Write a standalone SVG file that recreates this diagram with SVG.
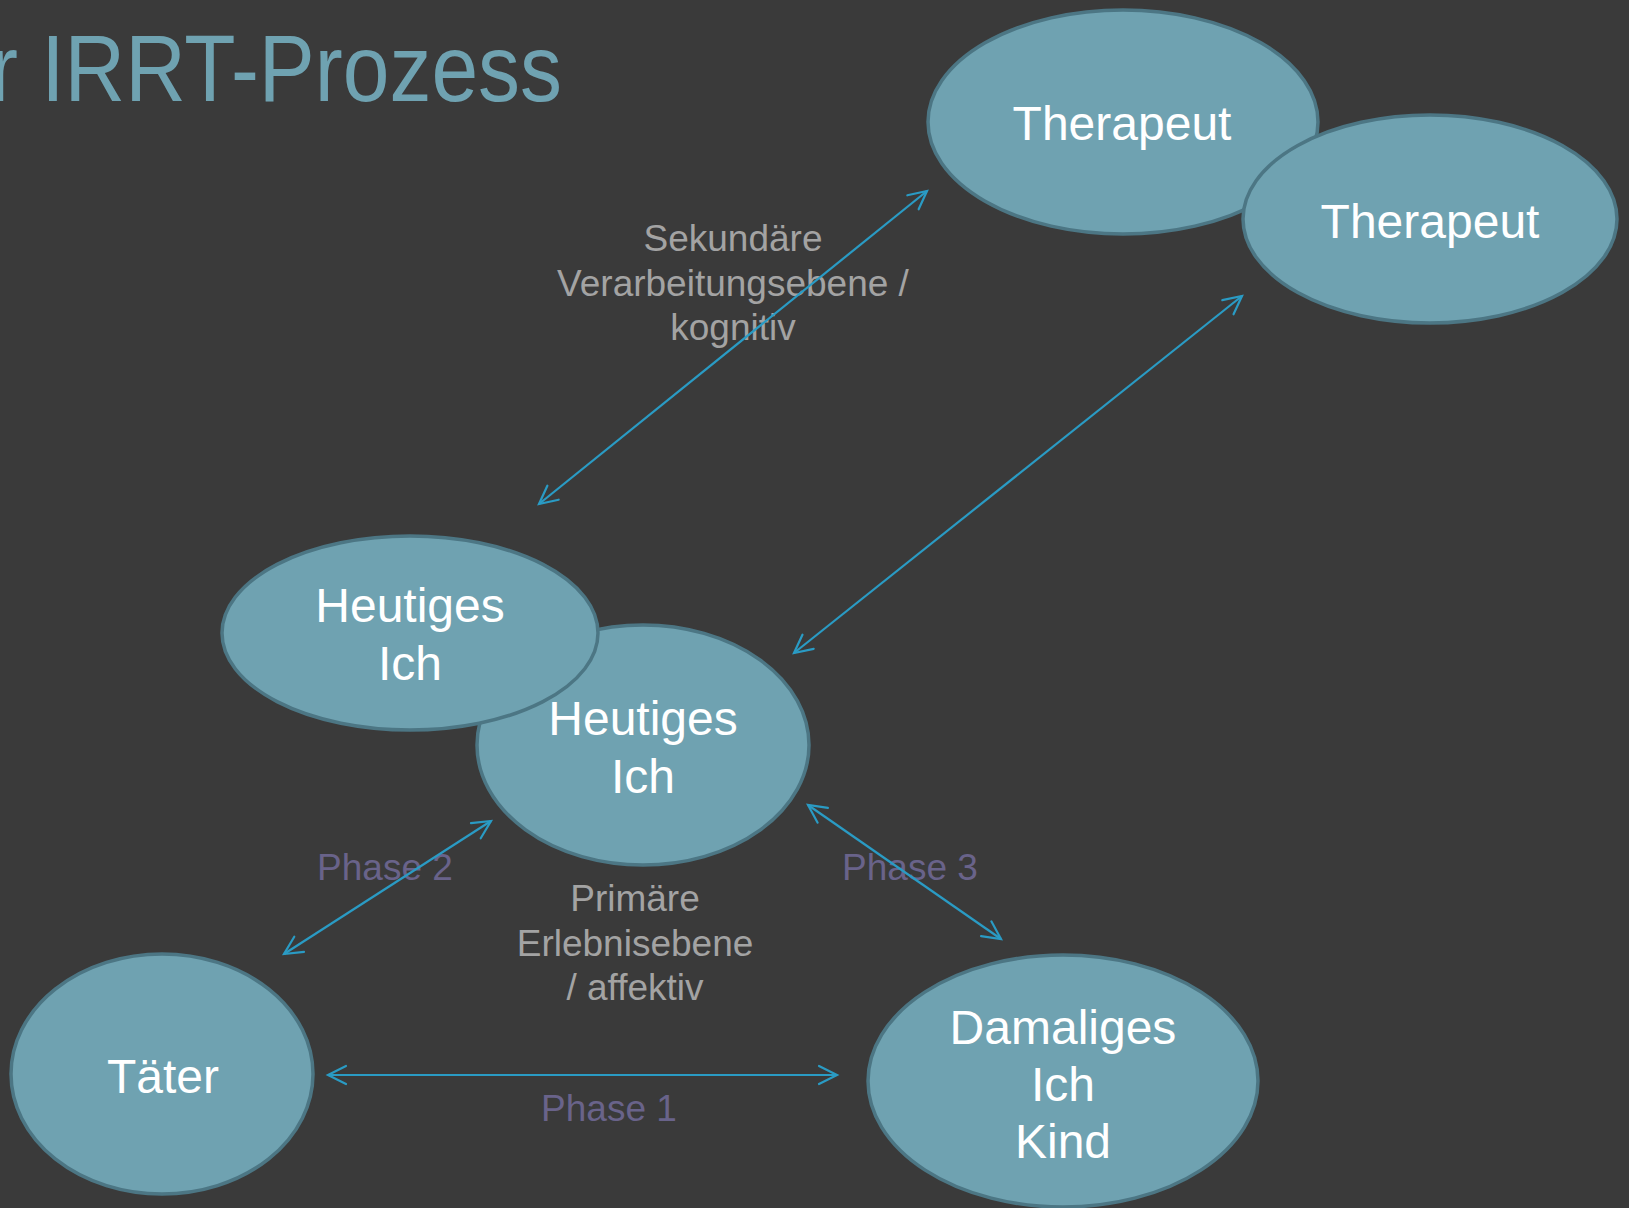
<svg xmlns="http://www.w3.org/2000/svg" width="1629" height="1208" viewBox="0 0 1629 1208">
  <style>
    .node { fill: #6FA2B1; stroke: #4C7684; stroke-width: 3.5; }
    .ntext { font-family: "Liberation Sans", Arial, sans-serif; font-size: 48px; fill: #FFFFFF; text-anchor: middle; }
    .level { font-family: "Liberation Sans", Arial, sans-serif; font-size: 37px; fill: #A3A3A3; text-anchor: middle; }
    .phase { font-family: "Liberation Sans", Arial, sans-serif; font-size: 37px; fill: #69638A; text-anchor: middle; }
    .title { font-family: "Liberation Sans", Arial, sans-serif; font-size: 94px; fill: #6FA2B1; }
    .link { stroke: #2A9BC4; stroke-width: 2.2; fill: none; marker-start: url(#head); marker-end: url(#head); }
  </style>
  <defs>
    <marker id="head" markerUnits="userSpaceOnUse" viewBox="-22 -12 26 24" refX="0" refY="0" markerWidth="26" markerHeight="24" orient="auto-start-reverse">
      <path d="M -18 -9 L 0 0 L -18 9" fill="none" stroke="#2A9BC4" stroke-width="2.2" stroke-linecap="round" stroke-linejoin="miter"/>
    </marker>
  </defs>

  <rect x="0" y="0" width="1629" height="1208" fill="#3A3A3A"/>

  <!-- page heading, running off the left edge -->
  <text class="title" x="-10" y="101" textLength="572" lengthAdjust="spacingAndGlyphs">r IRRT-Prozess</text>

  <!-- level labels sit under the connectors -->
  <text class="level" x="733" y="251">Sekundäre</text>
  <text class="level" x="733" y="296">Verarbeitungsebene /</text>
  <text class="level" x="733" y="340">kognitiv</text>

  <text class="level" x="635" y="911">Primäre</text>
  <text class="level" x="635" y="956">Erlebnisebene</text>
  <text class="level" x="635" y="1000">/ affektiv</text>

  <text class="phase" x="385" y="880">Phase 2</text>
  <text class="phase" x="910" y="880">Phase 3</text>
  <text class="phase" x="609" y="1121">Phase 1</text>

  <g id="connectors">
    <line class="link" x1="539" y1="504" x2="927" y2="191"/>
    <line class="link" x1="794" y1="653" x2="1242" y2="296"/>
    <line class="link" x1="284" y1="954" x2="491" y2="821"/>
    <line class="link" x1="808" y1="805" x2="1001" y2="939"/>
    <line class="link" x1="328" y1="1075" x2="837" y2="1075"/>
  </g>

  <g id="therapeut-1">
    <ellipse class="node" cx="1123" cy="122" rx="195" ry="112"/>
    <text class="ntext" x="1122" y="140">Therapeut</text>
  </g>
  <g id="therapeut-2">
    <ellipse class="node" cx="1430" cy="219" rx="187" ry="104"/>
    <text class="ntext" x="1430" y="238">Therapeut</text>
  </g>

  <g id="heutiges-ich-2">
    <ellipse class="node" cx="643" cy="745" rx="166" ry="120"/>
    <text class="ntext" x="643" y="735">Heutiges</text>
    <text class="ntext" x="643" y="793">Ich</text>
  </g>
  <g id="heutiges-ich-1">
    <ellipse class="node" cx="410" cy="633" rx="188" ry="97"/>
    <text class="ntext" x="410" y="622">Heutiges</text>
    <text class="ntext" x="410" y="680">Ich</text>
  </g>

  <g id="taeter">
    <ellipse class="node" cx="162" cy="1074" rx="151" ry="120"/>
    <text class="ntext" x="163" y="1093">Täter</text>
  </g>

  <g id="damaliges-ich">
    <ellipse class="node" cx="1063" cy="1081" rx="195" ry="126"/>
    <text class="ntext" x="1063" y="1044">Damaliges</text>
    <text class="ntext" x="1063" y="1101">Ich</text>
    <text class="ntext" x="1063" y="1158">Kind</text>
  </g>
</svg>
